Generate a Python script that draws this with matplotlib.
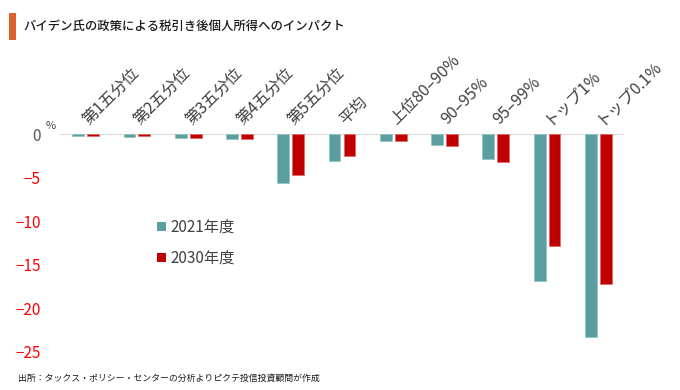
import matplotlib
matplotlib.use("Agg")
import matplotlib.pyplot as plt
from matplotlib.patches import Patch, Rectangle
import numpy as np

plt.rcParams['font.family'] = ['Noto Sans CJK JP', 'DejaVu Sans']

categories = ["第1五分位", "第2五分位", "第3五分位", "第4五分位", "第5五分位", "平均",
              "上位80–90%", "90–95%", "95–99%", "トップ1%", "トップ0.1%"]
v2021 = [-0.2, -0.35, -0.45, -0.55, -5.6, -3.1, -0.75, -1.2, -2.8, -16.9, -23.3]
v2030 = [-0.2, -0.25, -0.45, -0.55, -4.7, -2.5, -0.75, -1.4, -3.2, -12.8, -17.2]
series_names = ["2021年度", "2030年度"]
yticks = [0, -5, -10, -15, -20, -25]

c2021 = "#5b9ea0"
c2030 = "#c00000"

fig = plt.figure(figsize=(6.8, 3.9), dpi=100)
ax = fig.add_axes([60/680, 1-351.8/390, 564/680, (351.8-134.3)/390])

x = np.arange(len(categories))
w = 0.23
ax.bar(x - 0.145, v2021, width=w, color=c2021, edgecolor="#8fc0c2", linewidth=0.5, zorder=2)
ax.bar(x + 0.145, v2030, width=w, color=c2030, edgecolor="#e06666", linewidth=0.5, zorder=2)

ax.set_xlim(-0.5, len(categories) - 0.5)
ax.set_ylim(-25, 0)
ax.axhline(0, color="#d9d9d9", linewidth=1.5, zorder=1)
for s in ax.spines.values():
    s.set_visible(False)
ax.set_xticks([])
ax.set_yticks(yticks)
ax.set_yticklabels([str(t).replace("-", "−") for t in yticks], fontsize=11)
ax.tick_params(axis='y', length=0, pad=14)
for lab, t in zip(ax.get_yticklabels(), yticks):
    lab.set_color("#595959" if t == 0 else "#ff0000")

for i, cat in enumerate(categories):
    ax.text(i + 0.06, 1.05, cat, rotation=45, rotation_mode='anchor',
            ha='left', va='baseline', fontsize=11.5, color="#404040", clip_on=False)

fig.text(46/680, 1-129/390, "%", fontsize=8, color="#404040")

handles = [Patch(facecolor=c2021), Patch(facecolor=c2030)]
ax.legend(handles, series_names, loc='upper left', bbox_to_anchor=(157/680, 1-219/390),
          bbox_transform=fig.transFigure, frameon=False, fontsize=11,
          handlelength=0.6, handleheight=0.6, handletextpad=0.3, labelspacing=0.9,
          labelcolor="#404040", borderaxespad=0, borderpad=0)

fig.patches.append(Rectangle((9/680, 1-40/390), 7/680, 27/390, transform=fig.transFigure,
                             facecolor="#d9622b", edgecolor="none"))
fig.text(23/680, 1-26.5/390, "バイデン氏の政策による税引き後個人所得へのインパクト",
         fontsize=8.9, color="#1a1a1a", va='center', fontweight='medium')
fig.text(18/680, 1-378/390, "出所：タックス・ポリシー・センターの分析よりピクテ投信投資顧問が作成",
         fontsize=6.4, color="#1a1a1a", va='center')

fig.savefig("out.png", dpi=100)
